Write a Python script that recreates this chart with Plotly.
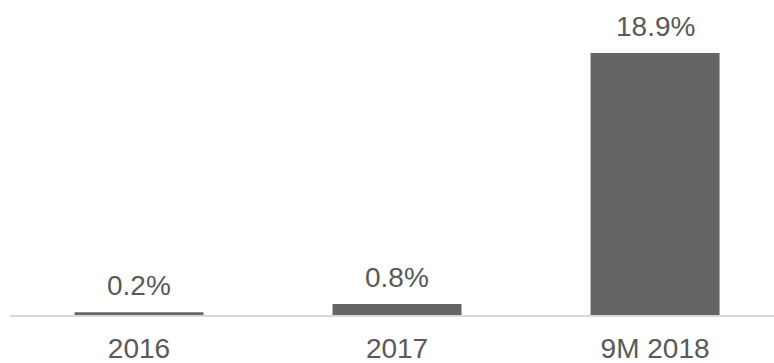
import plotly.graph_objects as go

categories = ["2016", "2017", "9M 2018"]
values = [0.2, 0.8, 18.9]
labels = ["0.2%", "0.8%", "18.9%"]

fig = go.Figure()
fig.add_trace(go.Bar(
    x=categories, y=values,
    marker=dict(color="#656565", line=dict(width=0)),
    width=0.5,
    hoverinfo="skip",
))

for i, (v, t) in enumerate(zip(values, labels)):
    fig.add_annotation(x=i, y=v, xref="x", yref="y", text=t, showarrow=False, yanchor="bottom",
                       yshift=9, font=dict(family="Liberation Sans, Arial", size=28, color="#595959"))

fig.update_layout(
    width=774, height=363,
    margin=dict(l=10, r=0, t=0, b=48),
    paper_bgcolor="white", plot_bgcolor="white",
    showlegend=False,
    font=dict(family="Liberation Sans, Arial", size=28, color="#595959"),
    xaxis=dict(type="category", range=[-0.5, 2.461], showline=True, linecolor="#d9d9d9", linewidth=1.5,
               ticks="", showgrid=False, zeroline=False, ticklabelstandoff=8, automargin=False,
               tickfont=dict(size=28, color="#595959")),
    yaxis=dict(range=[0, 22.72], visible=False, showgrid=False, zeroline=False, automargin=False),
)

fig.write_html("out.html")
